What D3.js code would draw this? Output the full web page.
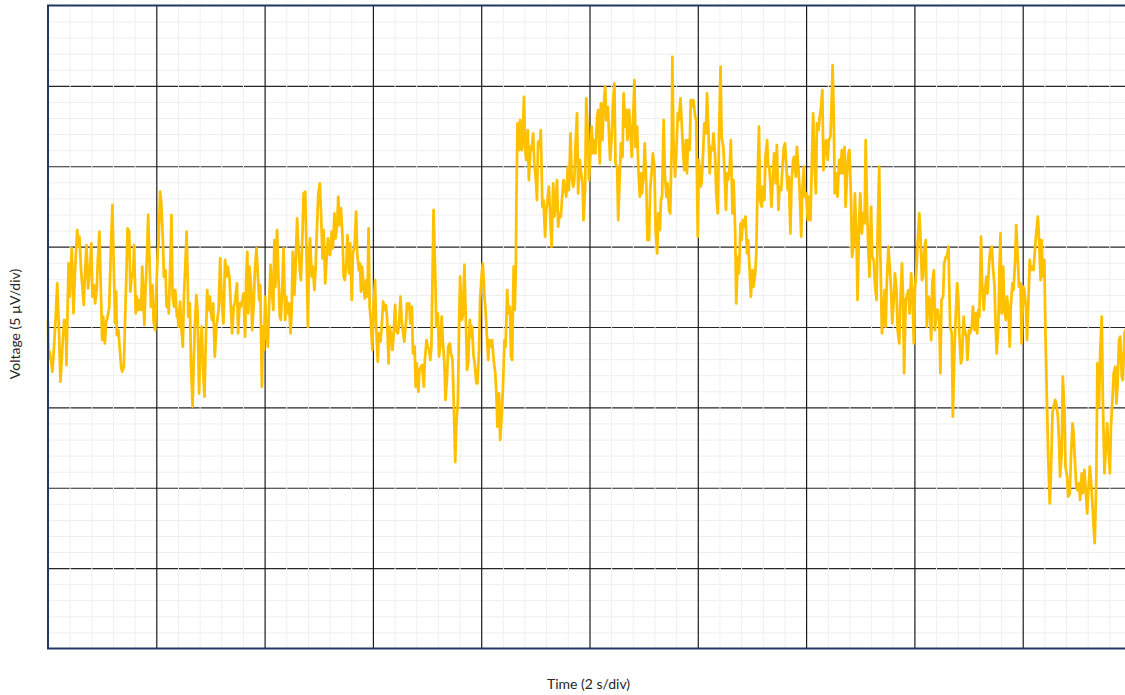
<!DOCTYPE html>
<html><head><meta charset="utf-8">
<script src="https://cdn.jsdelivr.net/npm/d3@7"></script>
<style>html,body{margin:0;padding:0;background:#fff;overflow:hidden}</style>
</head><body><svg id="c" width="1125" height="695"></svg>
<script>
// ---- labels & axes ----
const xLabel = "Time (2 s/div)";
const yLabel = "Voltage (5 \u00B5V/div)";
const timeDomain = [0, 20];      // seconds
const voltDomain = [-20, 20];    // microvolts
const majorTimeTicks = [0, 2, 4, 6, 8, 10, 12, 14, 16, 18, 20];
const majorVoltTicks = [-20, -15, -10, -5, 0, 5, 10, 15, 20];
const minorTimeStep = 0.4;
const minorVoltStep = 1;

// ---- trace: [time (s), voltage (µV)] ----
const seg1 = [[0,0.33],[0.01,-1.95],[0.03,-1.53],[0.055,-2.05],[0.08,-2.78],[0.10,-1.84],[0.14,0.44],[0.17,2.72],[0.20,0.02],[0.23,-3.40],[0.27,-1.02],[0.30,0.44],[0.33,0.23],[0.34,-2.36],[0.38,3.96],[0.40,1.89],[0.42,3.54],[0.44,4.89],[0.47,0.85],[0.50,3.54],[0.54,6.03],[0.56,5.00],[0.58,5.62],[0.61,3.54],[0.63,2.72],[0.66,1.37],[0.68,3.13],[0.71,5.10],[0.74,2.40],[0.78,3.96],[0.80,5.20],[0.82,1.89],[0.85,2.61],[0.87,1.47],[0.90,2.30],[0.92,4.17],[0.95,5.93],[0.97,3.13],[1.00,-0.81],[1.02,0.64],[1.05,-1.02],[1.07,0.23],[1.10,0.64],[1.13,1.16],[1.16,4.79],[1.19,7.59],[1.21,4.37],[1.24,0.23],[1.26,2.20],[1.27,-0.50],[1.30,-0.19],[1.32,-1.12],[1.35,-2.47],[1.37,-2.78],[1.40,-2.47],[1.42,0.02],[1.45,3.54],[1.47,6.14],[1.50,5.93],[1.52,2.20],[1.55,3.34],[1.57,3.13],[1.59,5.10],[1.62,0.85],[1.64,1.89],[1.67,1.06],[1.69,1.68],[1.72,1.06],[1.74,3.75],[1.78,0.12],[1.80,2.30],[1.83,4.58],[1.85,6.97],[1.88,3.54],[1.90,1.26],[1.93,2.61],[1.95,0.33],[1.98,-0.19]];
const seg2 = [[2.00,2.30],[2.03,4.89],[2.04,5.00],[2.07,8.42],[2.09,7.79],[2.12,5.62],[2.14,3.13],[2.17,3.54],[2.19,1.26],[2.21,1.89],[2.23,0.85],[2.26,4.17],[2.28,6.97],[2.30,1.89],[2.33,1.26],[2.35,2.30],[2.38,0.64],[2.39,1.06],[2.41,0.02],[2.44,1.58],[2.46,0.02],[2.49,-1.22],[2.51,1.89],[2.54,4.17],[2.56,5.93],[2.58,2.92],[2.59,0.64],[2.62,1.47],[2.64,-2.26],[2.67,-4.95],[2.69,-2.26],[2.71,0.02],[2.74,1.99],[2.76,1.06],[2.79,-4.13],[2.81,-1.43],[2.84,0.02],[2.86,-2.47],[2.89,-4.33],[2.91,-1.43],[2.94,2.30],[2.96,1.06],[2.99,1.89],[3.00,1.06],[3.03,0.44],[3.05,1.47],[3.08,-1.84],[3.11,0.02],[3.15,1.06],[3.18,4.27],[3.21,1.47],[3.24,0.23],[3.27,4.17],[3.30,3.13],[3.32,3.75],[3.35,3.13],[3.38,1.06],[3.40,-0.39],[3.43,1.26],[3.45,1.47],[3.49,2.72],[3.51,-0.39],[3.54,1.47],[3.56,1.26],[3.59,1.68],[3.61,2.09],[3.64,-0.60],[3.66,2.92],[3.68,4.68],[3.70,0.85],[3.72,3.75],[3.75,2.51],[3.77,-0.19],[3.80,1.47],[3.82,3.54],[3.85,4.89],[3.87,3.54],[3.90,1.68],[3.92,2.61],[3.95,-3.71],[3.97,0.02],[3.99,-1.43]];
const seg3 = [[4.01,1.89],[4.03,-0.19],[4.06,-1.22],[4.08,1.06],[4.11,3.86],[4.13,2.51],[4.16,1.06],[4.18,5.41],[4.20,2.51],[4.23,6.03],[4.25,3.75],[4.28,0.64],[4.30,0.44],[4.33,2.92],[4.35,4.89],[4.38,0.44],[4.40,1.89],[4.43,0.85],[4.45,1.47],[4.48,-0.39],[4.50,1.06],[4.52,4.68],[4.55,1.99],[4.57,3.54],[4.60,6.76],[4.62,5.31],[4.65,3.54],[4.67,2.92],[4.70,5.83],[4.72,8.31],[4.75,8.42],[4.77,5.20],[4.80,0.02],[4.82,4.58],[4.84,5.51],[4.87,3.13],[4.89,3.75],[4.92,2.30],[4.94,3.54],[4.97,6.45],[4.99,8.21],[5.02,8.93],[5.04,7.28],[5.07,4.27],[5.09,6.03],[5.12,2.72],[5.14,3.96],[5.17,5.51],[5.19,4.58],[5.21,4.48],[5.24,5.93],[5.26,4.89],[5.29,7.07],[5.31,5.51],[5.34,6.34],[5.36,8.11],[5.39,6.34],[5.41,7.38],[5.44,5.51],[5.46,3.13],[5.48,2.92],[5.51,3.96],[5.53,5.72],[5.56,3.34],[5.58,5.20],[5.61,1.68],[5.63,4.58],[5.66,5.00],[5.69,7.17],[5.71,4.58],[5.74,3.54],[5.76,3.96],[5.78,2.20],[5.80,3.75],[5.83,2.51],[5.85,1.78],[5.88,2.92],[5.90,1.89],[5.92,6.14],[5.94,1.26],[5.96,0.44],[5.99,-1.43]];
const seg4 = [[6.01,1.26],[6.04,2.92],[6.06,0.02],[6.09,-2.16],[6.11,-0.39],[6.14,-0.91],[6.16,-0.08],[6.19,1.58],[6.21,1.06],[6.24,1.37],[6.26,0.64],[6.29,-2.26],[6.31,0.02],[6.33,-0.39],[6.36,-1.43],[6.38,-0.60],[6.41,1.37],[6.43,-0.19],[6.46,-0.39],[6.48,0.02],[6.51,1.89],[6.53,0.44],[6.56,-0.39],[6.58,-0.91],[6.61,0.23],[6.63,1.47],[6.65,1.26],[6.67,1.47],[6.69,0.23],[6.72,1.26],[6.74,-1.64],[6.77,-1.22],[6.79,-3.71],[6.81,-2.26],[6.84,-4.02],[6.86,-2.67],[6.89,-2.47],[6.91,-2.36],[6.94,-3.71],[6.96,-2.05],[6.99,-0.81],[7.01,-1.22],[7.04,-1.43],[7.06,-2.05],[7.08,-1.22],[7.12,7.28],[7.15,3.54],[7.17,0.02],[7.20,0.85],[7.22,-1.84],[7.25,-1.02],[7.27,0.64],[7.29,-0.81],[7.32,-2.26],[7.34,-4.54],[7.37,-3.09],[7.39,-1.22],[7.42,-1.02],[7.44,-1.64],[7.47,-2.05],[7.49,-4.33],[7.52,-8.40],[7.54,-6.20],[7.57,-4.54],[7.59,-0.19],[7.61,3.13],[7.64,0.44],[7.66,0.64],[7.69,3.86],[7.71,1.26],[7.74,-2.67],[7.76,-2.26],[7.79,0.44],[7.81,-0.60],[7.83,0.02],[7.86,-1.84],[7.88,-2.26],[7.91,-3.50],[7.93,-3.50],[7.96,-1.43],[7.98,1.68]];
const seg5 = [[8.01,3.34],[8.03,3.96],[8.06,1.89],[8.08,1.06],[8.11,-0.81],[8.13,-2.05],[8.15,-0.81],[8.18,-1.22],[8.20,-0.81],[8.23,-2.05],[8.26,-2.88],[8.28,-4.13],[8.30,-6.20],[8.33,-4.13],[8.35,-7.03],[8.38,-5.37],[8.40,-3.92],[8.43,-0.81],[8.45,-1.22],[8.48,2.30],[8.50,0.85],[8.53,1.26],[8.55,-1.84],[8.57,-2.05],[8.60,3.75],[8.62,1.06],[8.64,3.75],[8.65,7.69],[8.67,12.67],[8.70,11.01],[8.72,12.87],[8.75,11.01],[8.77,12.04],[8.79,14.32],[8.81,11.21],[8.83,10.39],[8.86,12.25],[8.88,9.14],[8.91,11.21],[8.93,11.01],[8.96,12.04],[8.98,10.18],[9.01,9.14],[9.03,7.90],[9.05,11.53],[9.08,11.21],[9.10,12.25],[9.13,7.48],[9.15,7.90],[9.18,5.62],[9.20,7.28],[9.23,8.11],[9.25,8.73],[9.28,6.45],[9.30,5.00],[9.33,8.93],[9.35,6.86],[9.37,7.48],[9.40,9.14],[9.42,6.24],[9.45,7.07],[9.47,6.86],[9.50,8.31],[9.52,9.14],[9.55,8.52],[9.57,8.11],[9.60,9.97],[9.62,8.52],[9.65,12.04],[9.67,9.35],[9.70,8.73],[9.72,9.14],[9.74,11.21],[9.77,13.29],[9.79,8.31],[9.82,10.39],[9.84,9.76],[9.87,8.93],[9.89,6.65],[9.92,8.73],[9.94,14.22],[9.97,12.04],[9.99,9.14]];
const seg6 = [[10.02,11.01],[10.04,12.46],[10.06,10.80],[10.09,11.63],[10.11,10.80],[10.14,13.08],[10.16,13.50],[10.19,10.18],[10.21,13.91],[10.24,11.63],[10.26,13.70],[10.29,14.95],[10.31,12.87],[10.34,13.70],[10.36,12.04],[10.38,10.39],[10.41,11.84],[10.43,13.70],[10.46,15.15],[10.48,10.18],[10.51,9.97],[10.53,6.65],[10.56,9.56],[10.58,11.42],[10.61,10.59],[10.63,14.53],[10.66,12.46],[10.68,13.50],[10.70,11.63],[10.73,13.50],[10.75,12.46],[10.78,10.59],[10.80,12.46],[10.83,15.36],[10.85,11.21],[10.88,12.46],[10.90,9.97],[10.93,8.11],[10.95,9.56],[10.97,8.31],[11.00,9.56],[11.02,11.42],[11.05,8.73],[11.07,5.41],[11.10,5.41],[11.12,8.52],[11.15,9.76],[11.17,10.80],[11.20,9.97],[11.22,6.03],[11.25,4.58],[11.27,7.07],[11.30,6.03],[11.32,7.90],[11.34,8.11],[11.37,12.87],[11.39,9.56],[11.42,8.11],[11.44,8.93],[11.47,7.28],[11.49,7.07],[11.52,11.63],[11.53,16.81],[11.55,11.63],[11.58,9.35],[11.60,10.59],[11.63,13.29],[11.65,12.87],[11.68,14.22],[11.70,12.87],[11.73,10.80],[11.75,9.76],[11.78,11.63],[11.80,9.56],[11.82,11.63],[11.85,11.01],[11.87,14.12],[11.90,13.70],[11.92,14.12],[11.95,13.08],[11.97,12.87]];
const seg7 = [[12.00,5.62],[12.02,10.39],[12.05,8.73],[12.07,8.93],[12.10,11.01],[12.12,12.67],[12.15,12.04],[12.17,14.53],[12.20,11.84],[12.22,9.56],[12.24,11.21],[12.27,11.01],[12.29,12.04],[12.32,10.59],[12.34,8.31],[12.37,7.07],[12.39,11.63],[12.42,16.19],[12.44,11.84],[12.47,11.21],[12.49,9.97],[12.52,7.28],[12.54,9.56],[12.56,9.14],[12.59,9.97],[12.61,11.63],[12.64,7.07],[12.66,9.14],[12.69,6.03],[12.71,1.47],[12.74,4.37],[12.76,3.34],[12.79,6.45],[12.81,5.41],[12.83,6.65],[12.86,6.24],[12.88,6.86],[12.91,4.58],[12.93,5.41],[12.96,3.34],[12.98,1.89],[13.01,3.54],[13.03,2.51],[13.06,3.34],[13.08,4.58],[13.11,9.97],[13.13,12.46],[13.15,7.90],[13.18,7.48],[13.20,8.73],[13.23,7.90],[13.25,10.59],[13.28,11.63],[13.30,9.97],[13.32,9.97],[13.34,8.93],[13.36,7.48],[13.39,9.56],[13.41,10.80],[13.44,8.93],[13.46,11.32],[13.49,7.28],[13.51,8.73],[13.54,8.52],[13.56,9.76],[13.59,11.21],[13.61,11.42],[13.64,9.76],[13.66,8.52],[13.68,9.35],[13.71,5.82],[13.73,8.93],[13.76,10.39],[13.78,10.59],[13.81,9.35],[13.83,11.21],[13.86,9.76],[13.88,8.52],[13.91,5.62],[13.93,8.52],[13.96,9.97],[13.98,8.11]];
const seg8 = [[14.00,8.31],[14.03,6.65],[14.05,8.11],[14.08,6.65],[14.10,9.35],[14.13,13.29],[14.15,10.59],[14.18,8.31],[14.20,12.67],[14.23,12.25],[14.25,13.08],[14.27,13.50],[14.30,14.74],[14.32,9.76],[14.35,11.42],[14.37,11.63],[14.40,10.39],[14.42,11.63],[14.45,11.84],[14.47,13.91],[14.49,16.29],[14.51,13.08],[14.53,8.31],[14.56,9.56],[14.58,8.11],[14.61,10.39],[14.63,9.56],[14.66,11.01],[14.68,9.56],[14.71,11.21],[14.73,7.48],[14.76,9.76],[14.78,10.80],[14.80,11.01],[14.83,7.90],[14.85,4.37],[14.88,5.20],[14.90,8.31],[14.93,5.62],[14.95,1.68],[14.98,6.65],[15.00,8.31],[15.03,5.82],[15.05,7.07],[15.08,6.45],[15.10,11.63],[15.13,6.86],[15.15,4.79],[15.17,3.13],[15.20,7.48],[15.22,4.37],[15.25,4.17],[15.27,2.72],[15.30,1.68],[15.32,5.82],[15.35,9.97],[15.37,4.79],[15.40,-0.39],[15.42,0.44],[15.45,2.30],[15.47,0.02],[15.49,2.72],[15.52,5.00],[15.54,3.96],[15.57,2.30],[15.59,0.23],[15.62,1.68],[15.64,3.34],[15.67,2.30],[15.69,-0.19],[15.72,-1.02],[15.74,1.47],[15.77,3.96],[15.79,1.89],[15.81,-2.88],[15.84,1.68],[15.86,1.89],[15.89,2.30],[15.91,0.85],[15.94,3.34],[15.96,2.30],[15.99,-1.02]];
const seg9 = [[16.01,2.30],[16.04,3.75],[16.06,5.20],[16.09,7.07],[16.11,5.82],[16.14,2.92],[16.16,3.13],[16.18,4.79],[16.21,5.41],[16.23,0.02],[16.26,1.89],[16.28,1.68],[16.31,-0.81],[16.33,2.72],[16.36,3.54],[16.38,-0.19],[16.41,1.06],[16.43,1.06],[16.46,0.23],[16.48,-2.88],[16.50,1.68],[16.53,1.89],[16.55,3.96],[16.58,4.37],[16.60,4.37],[16.63,5.00],[16.64,3.13],[16.66,0.02],[16.69,-0.39],[16.71,-5.58],[16.74,-1.43],[16.76,0.44],[16.79,2.72],[16.81,1.89],[16.83,-0.39],[16.86,-2.26],[16.88,-1.84],[16.91,0.64],[16.93,-0.19],[16.96,-0.60],[16.98,-2.05],[17.01,-0.19],[17.03,-0.39],[17.06,0.02],[17.08,1.26],[17.11,-0.19],[17.13,0.85],[17.16,-0.39],[17.18,1.06],[17.20,0.64],[17.23,5.62],[17.25,2.72],[17.28,1.06],[17.30,2.09],[17.33,3.13],[17.35,2.09],[17.38,3.96],[17.40,4.79],[17.43,5.00],[17.45,3.75],[17.48,2.51],[17.50,0.02],[17.52,-1.64],[17.55,0.02],[17.57,3.54],[17.59,5.82],[17.61,0.85],[17.64,3.75],[17.66,1.06],[17.69,0.44],[17.71,1.89],[17.74,0.85],[17.76,-1.22],[17.78,1.26],[17.81,2.72],[17.83,2.30],[17.86,4.17],[17.88,6.34],[17.91,4.17],[17.93,2.51],[17.96,2.72],[17.98,-1.02]];
const seg10 = [[18.01,2.51],[18.03,2.30],[18.06,1.26],[18.08,-0.81],[18.10,1.06],[18.13,4.17],[18.15,3.54],[18.18,3.75],[18.20,3.54],[18.23,5.00],[18.25,5.82],[18.28,6.86],[18.30,5.62],[18.33,2.92],[18.35,5.41],[18.37,3.13],[18.40,4.17],[18.42,-0.39],[18.45,-4.95],[18.47,-8.07],[18.50,-10.97],[18.52,-9.31],[18.55,-5.37],[18.57,-4.95],[18.60,-4.54],[18.62,-4.75],[18.65,-5.58],[18.67,-7.03],[18.69,-9.31],[18.72,-7.86],[18.74,-3.09],[18.77,-5.16],[18.79,-8.69],[18.82,-9.31],[18.84,-10.55],[18.87,-10.34],[18.89,-8.27],[18.92,-5.99],[18.94,-6.61],[18.97,-8.69],[18.99,-9.93],[19.01,-10.14],[19.04,-9.72],[19.06,-10.76],[19.09,-9.10],[19.11,-10.34],[19.14,-8.89],[19.16,-9.93],[19.19,-11.59],[19.21,-10.34],[19.24,-8.69],[19.26,-9.51],[19.29,-11.17],[19.31,-12.42],[19.33,-13.45],[19.36,-9.31],[19.38,-2.26],[19.41,-4.95],[19.43,-1.64],[19.46,0.64],[19.48,-4.54],[19.51,-9.10],[19.53,-7.86],[19.56,-5.99],[19.58,-7.44],[19.61,-9.10],[19.63,-6.20],[19.66,-4.33],[19.68,-2.88],[19.71,-2.47],[19.73,-4.75],[19.75,-3.71],[19.78,-0.81],[19.80,-0.60],[19.83,-3.09],[19.85,-3.30],[19.88,-0.39],[19.90,-0.19]];

const trace = [].concat(seg1, seg2, seg3, seg4, seg5, seg6, seg7, seg8, seg9, seg10);

// ---- layout ----
const plot = {left: 48, top: 5.5, width: 1083, height: 643};

const svg = d3.select("#c");
const x = d3.scaleLinear().domain(timeDomain).range([plot.left, plot.left + plot.width]);
const y = d3.scaleLinear().domain(voltDomain).range([plot.top + plot.height, plot.top]);

const minorTime = d3.range(timeDomain[0], timeDomain[1] + 1e-9, minorTimeStep).filter(t => !majorTimeTicks.some(m => Math.abs(m - t) < 1e-6));
const minorVolt = d3.range(voltDomain[0], voltDomain[1] + 1e-9, minorVoltStep).filter(v => !majorVoltTicks.some(m => Math.abs(m - v) < 1e-6));

function grid(g, color, width) {
  g.select(".domain").remove();
  g.selectAll(".tick text").remove();
  g.selectAll(".tick line").attr("stroke", color).attr("stroke-width", width);
}

// minor horizontal
svg.append("g").attr("transform", `translate(${plot.left},0)`)
  .call(d3.axisLeft(y).tickValues(minorVolt).tickSize(-plot.width).tickFormat(""))
  .call(grid, "#eeeeee", 1);
// major horizontal
svg.append("g").attr("transform", `translate(${plot.left},0)`)
  .call(d3.axisLeft(y).tickValues(majorVoltTicks.slice(1, -1)).tickSize(-plot.width).tickFormat(""))
  .call(grid, "#262626", 1.2);
// minor vertical
svg.append("g").attr("transform", `translate(0,${plot.top + plot.height})`)
  .call(d3.axisBottom(x).tickValues(minorTime).tickSize(-plot.height).tickFormat(""))
  .call(grid, "#f0f0f0", 1);
// major vertical
svg.append("g").attr("transform", `translate(0,${plot.top + plot.height})`)
  .call(d3.axisBottom(x).tickValues(majorTimeTicks.slice(1, -1)).tickSize(-plot.height).tickFormat(""))
  .call(grid, "#1a1a1a", 1.2);

// data line
const line = d3.line().x(d => x(d[0])).y(d => y(d[1])).curve(d3.curveLinear);
svg.append("path").datum(trace)
  .attr("d", line)
  .attr("fill", "none")
  .attr("stroke", "#FFC000")
  .attr("stroke-width", 2.75)
  .attr("stroke-linejoin", "round")
  .attr("stroke-linecap", "round");

// plot border
svg.append("rect")
  .attr("x", plot.left).attr("y", plot.top)
  .attr("width", plot.width).attr("height", plot.height)
  .attr("fill", "none").attr("stroke", "#1F3864").attr("stroke-width", 2);

// axis titles
svg.append("text")
  .attr("x", plot.left + plot.width / 2 - 1).attr("y", 689)
  .attr("text-anchor", "middle")
  .attr("font-family", "Lato, 'Liberation Sans', sans-serif")
  .attr("font-size", 14).attr("fill", "#262626")
  .text(xLabel);
svg.append("text")
  .attr("transform", `translate(20,${plot.top + plot.height / 2 - 3}) rotate(-90)`)
  .attr("text-anchor", "middle")
  .attr("font-family", "Lato, 'Liberation Sans', sans-serif")
  .attr("font-size", 14).attr("fill", "#262626")
  .text(yLabel);
</script>
</body></html>
